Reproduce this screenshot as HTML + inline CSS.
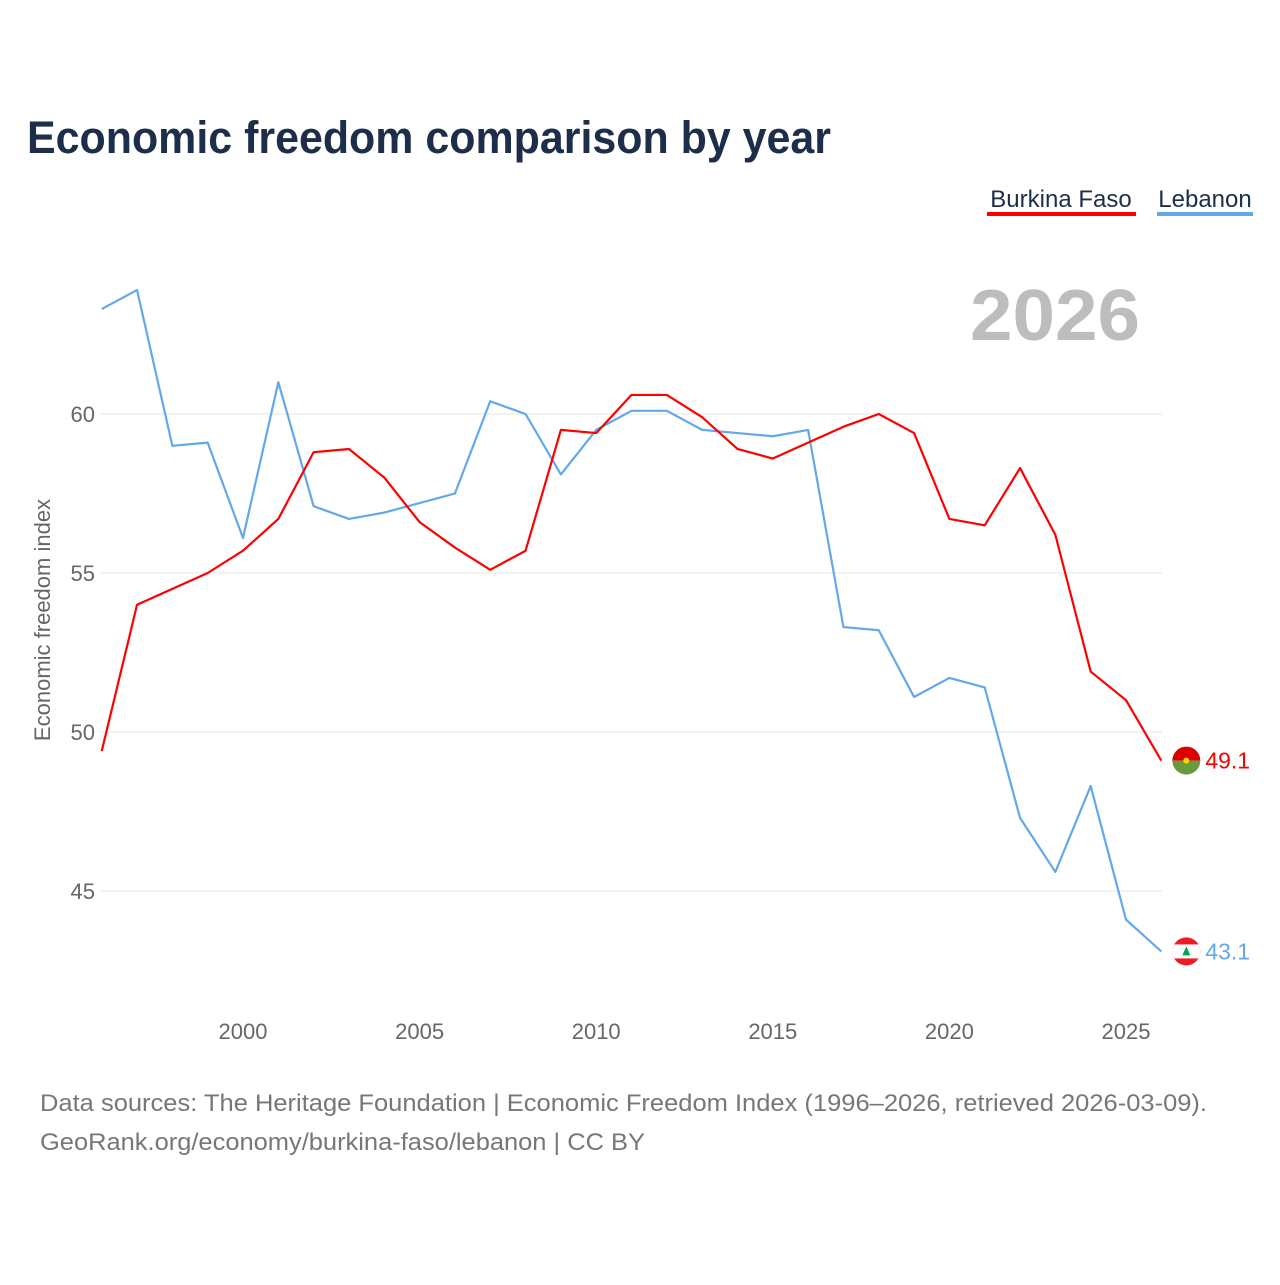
<!DOCTYPE html>
<html><head><meta charset="utf-8"><style>
body{margin:0;background:#fff;font-family:"Liberation Sans",sans-serif}
</style></head><body>
<svg id="chart" width="1280" height="1280" viewBox="0 0 1280 1280" xmlns="http://www.w3.org/2000/svg" font-family="Liberation Sans, sans-serif">
<rect width="1280" height="1280" fill="#fff"/>
<text x="27" y="153" font-size="45" font-weight="bold" fill="#1c2e4a" textLength="804" lengthAdjust="spacingAndGlyphs">Economic freedom comparison by year</text>
<g><text x="1061" y="207" font-size="24" fill="#1c2e4a" text-anchor="middle">Burkina Faso</text><rect x="987" y="212" width="149" height="4" fill="#ff0000"/></g>
<g><text x="1205" y="207" font-size="24" fill="#1c2e4a" text-anchor="middle">Lebanon</text><rect x="1157" y="212" width="96" height="4" fill="#63a8e8"/></g>
<text x="970" y="340" font-size="72" font-weight="bold" fill="#bdbdbd" textLength="170" lengthAdjust="spacingAndGlyphs">2026</text>
<text transform="translate(50,620) rotate(-90)" font-size="22" fill="#666" text-anchor="middle">Economic freedom index</text>
<g id="grid"></g><g id="lines"></g>
<text x="40" y="1111" font-size="24" fill="#777" textLength="1167" lengthAdjust="spacingAndGlyphs">Data sources: The Heritage Foundation | Economic Freedom Index (1996–2026, retrieved 2026-03-09).</text>
<text x="40" y="1150" font-size="24" fill="#777" textLength="605" lengthAdjust="spacingAndGlyphs">GeoRank.org/economy/burkina-faso/lebanon | CC BY</text>
</svg>
<script>
const years=[1996,1997,1998,1999,2000,2001,2002,2003,2004,2005,2006,2007,2008,2009,2010,2011,2012,2013,2014,2015,2016,2017,2018,2019,2020,2021,2022,2023,2024,2025,2026];
const burkina=[49.4,54.0,54.5,55.0,55.7,56.7,58.8,58.9,58.0,56.6,55.8,55.1,55.7,59.5,59.4,60.6,60.6,59.9,58.9,58.6,59.1,59.6,60.0,59.4,56.7,56.5,58.3,56.2,51.9,51.0,49.1];
const lebanon=[63.3,63.9,59.0,59.1,56.1,61.0,57.1,56.7,56.9,57.2,57.5,60.4,60.0,58.1,59.5,60.1,60.1,59.5,59.4,59.3,59.5,53.3,53.2,51.1,51.7,51.4,47.3,45.6,48.3,44.1,43.1];
const yTicks=[45,50,55,60];
const xTicks=[2000,2005,2010,2015,2020,2025];
const NS="http://www.w3.org/2000/svg";
const x=v=>243+(v-2000)*35.32;
const y=v=>414-(v-60)*31.8;
function mk(t,a,p){const e=document.createElementNS(NS,t);for(const k in a)e.setAttribute(k,a[k]);p.appendChild(e);return e;}
const grid=document.getElementById('grid'),lines=document.getElementById('lines');
yTicks.forEach(v=>{
 const l=mk('line',{x1:100,x2:1162,y1:y(v),y2:y(v),stroke:'#e6e6e6','stroke-width':1},grid);
 
 
 const t=mk('text',{x:95,y:y(v)+8,'font-size':22,fill:'#666','text-anchor':'end'},grid);t.textContent=v;
 
 
});
xTicks.forEach(v=>{
 const t=mk('text',{x:x(v),y:1039,'font-size':22,fill:'#666','text-anchor':'middle'},grid);t.textContent=v;
 
 
});
function series(vals,col,name,flag){
 const p=mk('polyline',{points:vals.map((v,i)=>x(years[i])+','+y(v)).join(' '),fill:'none',stroke:col,'stroke-width':2.2,'stroke-linejoin':'round'},lines);
 
 
 const last=vals[vals.length-1],cy=y(last),cx=x(years[years.length-1])+25;
 const g=mk('g',{},lines);
 
 
 mk('clipPath',{id:'c'+name},g).appendChild(document.createElementNS(NS,'circle')).setAttribute('r',14);
 document.querySelector('#c'+name+' circle').setAttribute('cx',cx);
 document.querySelector('#c'+name+' circle').setAttribute('cy',cy);
 const cg=mk('g',{'clip-path':'url(#c'+name+')'},g);
 if(flag==='bf'){mk('rect',{x:cx-15,y:cy-15,width:30,height:15,fill:'#de0000'},cg);mk('rect',{x:cx-15,y:cy,width:30,height:15,fill:'#6a9b3a'},cg);mk('circle',{cx:cx,cy:cy,r:3,fill:'#fcd116'},cg);}
 else{mk('rect',{x:cx-15,y:cy-15,width:30,height:30,fill:'#ed1c24'},cg);mk('rect',{x:cx-15,y:cy-7,width:30,height:14,fill:'#fff'},cg);mk('path',{d:`M${cx} ${cy-5} L${cx+4} ${cy+4} L${cx-4} ${cy+4}Z`,fill:'#00a651'},cg);}
 const t=mk('text',{x:cx+19,y:cy+8,'font-size':23,fill:col},lines);t.textContent=last.toFixed(1);
 
 
}
series(lebanon,'#63a8e8','lebanon','lb');
series(burkina,'#ff0000','burkina-faso','bf');
</script>
</body></html>
